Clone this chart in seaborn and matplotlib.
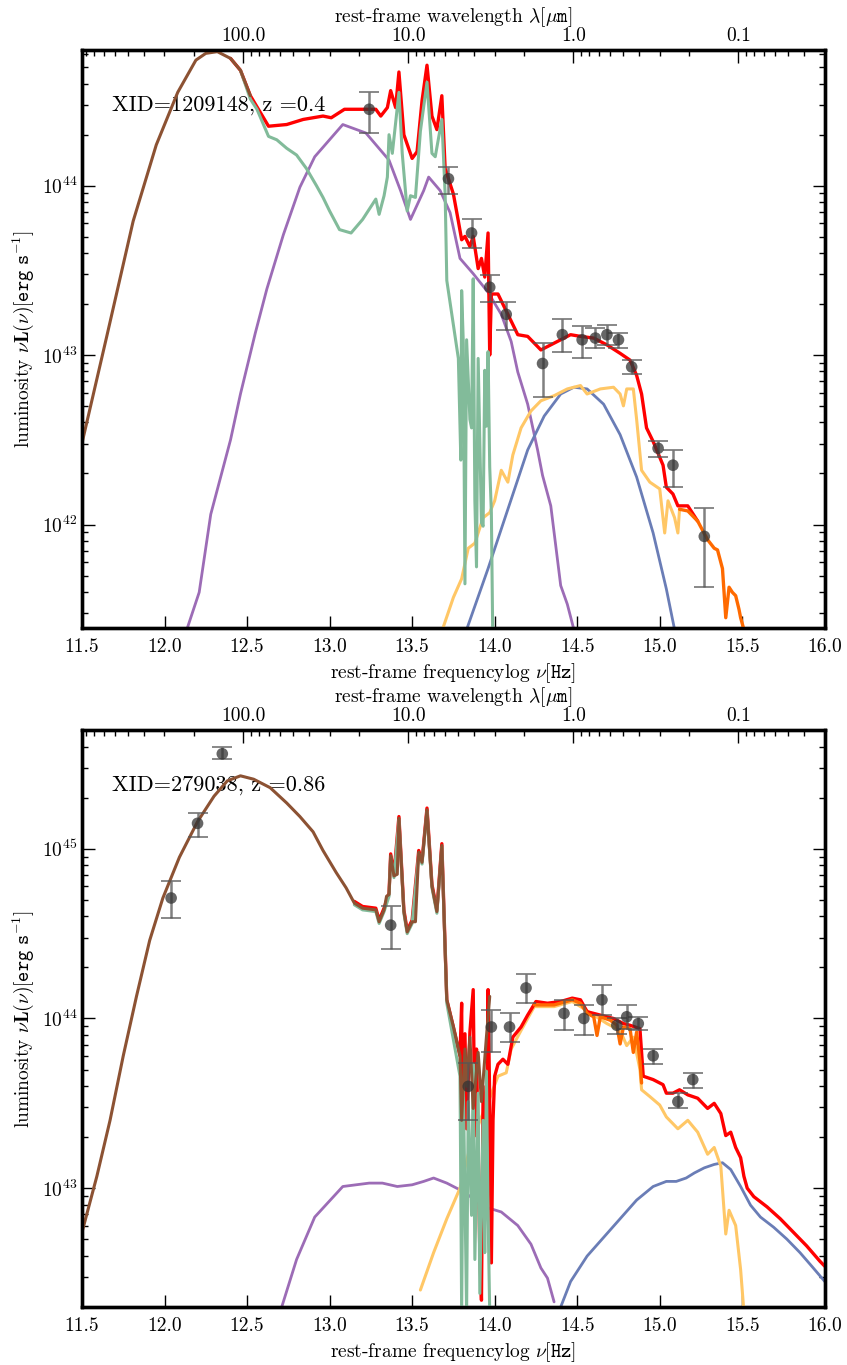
import numpy as np
import matplotlib
matplotlib.use("Agg")
import matplotlib.pyplot as plt
import seaborn as sns

C_UM = 2.998e14  # speed of light in micron/s

# ---------------- top panel: XID=1209148, z=0.4 ----------------
top_label = "XID=1209148, z =0.4"
top_ylim = (41.39, 44.80)

top_cold_x = [11.50, 11.65, 11.81, 11.95, 12.08, 12.19, 12.25, 12.32, 12.40, 12.46, 12.52]
top_cold_y = [42.48, 43.11, 43.79, 44.24, 44.55, 44.74, 44.78, 44.79, 44.75, 44.68, 44.53]

top_sb_x = [12.46, 12.52, 12.56, 12.63, 12.68, 12.74, 12.80, 12.86, 12.92, 12.96, 13.00, 13.06,
            13.13, 13.20, 13.28, 13.30, 13.33, 13.35, 13.36, 13.38, 13.42, 13.44, 13.47, 13.49,
            13.52, 13.55, 13.59, 13.62, 13.64, 13.68, 13.70, 13.71, 13.78, 13.795, 13.80, 13.81,
            13.82, 13.83, 13.85, 13.86, 13.87, 13.88, 13.89, 13.90, 13.92, 13.93, 13.94, 13.95,
            13.96, 13.97, 13.98, 13.99]
top_sb_y = [44.68, 44.51, 44.45, 44.29, 44.27, 44.22, 44.18, 44.10, 44.00, 43.93, 43.85, 43.74,
            43.72, 43.80, 43.92, 43.83, 43.94, 44.05, 44.30, 44.19, 44.55, 44.19, 43.85, 43.94,
            43.93, 44.32, 44.61, 44.19, 44.17, 44.39, 43.95, 43.44, 42.98, 42.38, 43.38, 43.07,
            41.65, 43.09, 42.62, 42.57, 43.45, 42.14, 41.75, 42.98, 42.01, 41.99, 42.91, 42.58,
            43.02, 42.34, 42.07, 41.20]

top_agn_x = [12.135, 12.21, 12.28, 12.40, 12.46, 12.55, 12.62, 12.72, 12.82, 12.91, 13.08, 13.22,
             13.36, 13.43, 13.49, 13.57, 13.60, 13.67, 13.73, 13.79, 13.87, 13.96, 14.04, 14.10,
             14.14, 14.20, 14.26, 14.29, 14.34, 14.40, 14.44, 14.48]
top_agn_y = [41.38, 41.60, 42.06, 42.50, 42.77, 43.13, 43.39, 43.71, 43.99, 44.17, 44.36, 44.31,
             44.15, 43.97, 43.80, 43.97, 44.05, 43.97, 43.84, 43.57, 43.48, 43.37, 43.24, 43.08,
             42.90, 42.71, 42.44, 42.29, 42.11, 41.64, 41.53, 41.38]

top_bbb_x = [13.83, 13.96, 14.08, 14.20, 14.30, 14.40, 14.48, 14.56, 14.66, 14.76, 14.86, 14.96,
             15.04, 15.09]
top_bbb_y = [41.38, 41.74, 42.09, 42.44, 42.64, 42.77, 42.81, 42.80, 42.71, 42.53, 42.28, 41.95,
             41.62, 41.38]

top_gal_x = [13.68, 13.75, 13.80, 13.84, 13.88, 13.93, 13.97, 14.00, 14.04, 14.08, 14.11, 14.16,
             14.22, 14.28, 14.36, 14.44, 14.52, 14.56, 14.64, 14.72, 14.76, 14.78, 14.80, 14.84,
             14.86, 14.89, 14.94, 15.00, 15.03, 15.05, 15.09, 15.11, 15.12]
top_gal_y = [41.37, 41.57, 41.68, 41.86, 41.89, 42.04, 42.07, 42.14, 42.32, 42.25, 42.41, 42.57,
             42.67, 42.73, 42.76, 42.80, 42.82, 42.77, 42.80, 42.81, 42.77, 42.70, 42.80, 42.80,
             42.62, 42.32, 42.25, 42.21, 41.95, 42.14, 42.04, 41.95, 42.09]

top_tot_x = [12.40, 12.46, 12.52, 12.63, 12.74, 12.84, 12.96, 13.01, 13.09, 13.28, 13.31, 13.35,
             13.37, 13.40, 13.42, 13.45, 13.50, 13.53, 13.56, 13.59, 13.62, 13.65, 13.68, 13.70,
             13.72, 13.75, 13.78, 13.80, 13.82, 13.85, 13.87, 13.90, 13.92, 13.94, 13.96, 13.97,
             13.98, 14.02, 14.08, 14.14, 14.20, 14.28, 14.36, 14.46, 14.52, 14.60, 14.68, 14.76,
             14.82, 14.86, 14.89, 14.92, 14.96, 15.02, 15.04, 15.08, 15.11, 15.17, 15.23]
top_tot_y = [44.75, 44.68, 44.53, 44.35, 44.36, 44.39, 44.41, 44.40, 44.45, 44.45, 44.41, 44.46,
             44.56, 44.46, 44.67, 44.30, 44.16, 44.20, 44.50, 44.71, 44.41, 44.33, 44.53, 44.10,
             44.04, 43.95, 43.79, 43.68, 43.70, 43.64, 43.70, 43.51, 43.57, 43.46, 43.72, 43.00,
             43.36, 43.36, 43.24, 43.12, 43.11, 43.03, 43.07, 43.12, 43.11, 43.10, 43.06, 43.01,
             42.97, 42.88, 42.77, 42.57, 42.49, 42.35, 42.22, 42.18, 42.11, 42.11, 42.02]

top_uv_x = [15.12, 15.17, 15.23, 15.29, 15.33, 15.35, 15.38, 15.40, 15.42, 15.44, 15.46, 15.48,
            15.49, 15.51, 15.53]
top_uv_y = [42.09, 42.08, 42.02, 41.91, 41.86, 41.85, 41.74, 41.45, 41.63, 41.60, 41.58, 41.50,
            41.45, 41.38, 41.30]

top_obs_x = [13.24, 13.72, 13.86, 13.97, 14.07, 14.29, 14.41, 14.53, 14.61, 14.68, 14.75, 14.83,
             14.99, 15.08, 15.27]
top_obs_y = [44.45, 44.04, 43.72, 43.40, 43.24, 42.95, 43.12, 43.09, 43.10, 43.12, 43.09, 42.93,
             42.45, 42.35, 41.93]
top_obs_lo = [44.31, 43.95, 43.63, 43.31, 43.15, 42.75, 43.02, 42.98, 43.04, 43.06, 43.04, 42.89,
              42.40, 42.22, 41.63]
top_obs_hi = [44.55, 44.11, 43.80, 43.47, 43.31, 43.07, 43.21, 43.17, 43.16, 43.18, 43.13, 42.97,
              42.49, 42.44, 42.10]

# ---------------- bottom panel: XID=279038, z=0.86 ----------------
bot_label = "XID=279038, z =0.86"
bot_ylim = (42.30, 45.70)

bot_cold_x = [11.50, 11.59, 11.67, 11.75, 11.83, 11.91, 11.99, 12.09, 12.20, 12.30, 12.38, 12.46,
              12.54, 12.64, 12.74, 12.82, 12.90, 12.96, 13.04, 13.10, 13.15, 13.20, 13.28, 13.30,
              13.33, 13.345, 13.36, 13.37, 13.39, 13.41, 13.42, 13.45, 13.47, 13.50, 13.52, 13.54,
              13.56, 13.59, 13.62, 13.65, 13.68, 13.70, 13.71, 13.75, 13.79, 13.80, 13.82, 13.83,
              13.85, 13.87, 13.90, 13.92, 13.95, 13.97]
bot_cold_y = [42.74, 43.07, 43.40, 43.78, 44.13, 44.46, 44.71, 44.95, 45.16, 45.31, 45.40, 45.43,
              45.41, 45.36, 45.27, 45.19, 45.10, 44.99, 44.86, 44.77, 44.68, 44.65, 44.64, 44.57,
              44.64, 44.72, 44.73, 44.96, 44.84, 44.85, 45.18, 44.63, 44.51, 44.57, 44.57, 44.98,
              44.92, 45.23, 44.78, 44.63, 45.02, 44.40, 44.11, 43.95, 43.78, 43.40, 43.82, 43.60,
              43.89, 43.47, 43.80, 43.51, 43.89, 44.13]

bot_sb_x = [13.15, 13.20, 13.28, 13.30, 13.33, 13.36, 13.37, 13.39, 13.42, 13.45, 13.47, 13.50,
            13.54, 13.56, 13.59, 13.62, 13.65, 13.68, 13.71, 13.79, 13.80, 13.81, 13.83, 13.84,
            13.86, 13.87, 13.88, 13.90, 13.91, 13.93, 13.94, 13.95, 13.96, 13.97]
bot_sb_y = [44.67, 44.64, 44.63, 44.56, 44.63, 44.72, 44.95, 44.83, 45.17, 44.62, 44.50, 44.56,
            44.97, 44.91, 45.22, 44.77, 44.62, 45.01, 44.09, 43.66, 42.27, 43.62, 42.27, 43.51,
            42.84, 43.73, 42.58, 43.56, 42.38, 43.40, 42.62, 43.69, 42.84, 42.27]

bot_agn_x = [12.71, 12.80, 12.91, 13.08, 13.24, 13.32, 13.41, 13.50, 13.57, 13.63, 13.71, 13.81,
             13.94, 14.04, 14.14, 14.22, 14.28, 14.32, 14.36]
bot_agn_y = [42.30, 42.58, 42.83, 43.01, 43.03, 43.03, 43.01, 43.02, 43.04, 43.06, 43.03, 42.98,
             42.89, 42.86, 42.78, 42.67, 42.53, 42.47, 42.33]

bot_bbb_x = [14.40, 14.46, 14.56, 14.66, 14.76, 14.86, 14.96, 15.04, 15.10, 15.16, 15.21, 15.27,
             15.33, 15.38, 15.43, 15.49, 15.55, 15.61, 15.69, 15.77, 15.85, 15.93, 16.00]
bot_bbb_y = [42.30, 42.45, 42.60, 42.71, 42.82, 42.93, 43.01, 43.04, 43.04, 43.06, 43.09, 43.12,
             43.14, 43.15, 43.11, 43.01, 42.90, 42.83, 42.77, 42.70, 42.62, 42.53, 42.45]

bot_gal_x = [13.55, 13.63, 13.71, 13.79, 13.85, 13.92, 13.97, 14.02, 14.07, 14.10, 14.16, 14.24,
             14.36, 14.47, 14.52, 14.60, 14.68, 14.76, 14.80, 14.84, 14.88, 14.89, 14.94, 15.00,
             15.04, 15.11, 15.17, 15.23, 15.29, 15.33, 15.37, 15.40, 15.42, 15.46, 15.49, 15.51]
bot_gal_y = [42.40, 42.62, 42.82, 43.00, 43.24, 43.42, 43.53, 43.66, 43.68, 43.82, 43.93, 44.07,
             44.07, 44.10, 44.07, 44.02, 43.97, 43.93, 43.84, 43.89, 43.70, 43.58, 43.54, 43.49,
             43.42, 43.35, 43.40, 43.33, 43.20, 43.24, 43.13, 42.73, 42.87, 42.78, 42.52, 42.27]

bot_tot_x = [13.15, 13.20, 13.28, 13.30, 13.33, 13.36, 13.37, 13.39, 13.42, 13.45, 13.47, 13.50,
             13.54, 13.56, 13.59, 13.62, 13.65, 13.68, 13.71, 13.75, 13.79, 13.80, 13.805, 13.82,
             13.83, 13.85, 13.87, 13.88, 13.89, 13.91, 13.92, 13.93, 13.95, 13.96, 13.97, 13.98,
             13.99, 14.00, 14.02, 14.05, 14.08, 14.11, 14.16, 14.20, 14.25, 14.32, 14.40, 14.47,
             14.52, 14.56, 14.64, 14.72, 14.78, 14.82, 14.88, 14.90, 14.96, 15.02, 15.04, 15.08,
             15.12, 15.17, 15.23, 15.29, 15.33, 15.37, 15.40, 15.43, 15.46, 15.49, 15.51, 15.53,
             15.57, 15.65, 15.73, 15.81, 15.89, 15.97, 16.00]
bot_tot_y = [44.69, 44.66, 44.65, 44.58, 44.65, 44.74, 44.97, 44.85, 45.19, 44.64, 44.52, 44.58,
             44.99, 44.93, 45.24, 44.79, 44.64, 45.03, 44.11, 43.95, 43.78, 44.09, 43.29, 43.91,
             43.35, 43.92, 44.17, 43.31, 43.82, 42.62, 42.34, 43.60, 43.07, 44.17, 43.51, 42.56,
             43.40, 43.66, 43.73, 43.76, 43.73, 43.89, 43.95, 44.02, 44.10, 44.09, 44.10, 44.12,
             44.11, 44.04, 44.02, 44.00, 43.97, 43.96, 43.94, 43.66, 43.64, 43.61, 43.56, 43.56,
             43.58, 43.55, 43.53, 43.47, 43.50, 43.44, 43.31, 43.33, 43.24, 43.18, 43.07, 43.00,
             42.95, 42.89, 42.82, 42.74, 42.66, 42.57, 42.54]

bot_uv_x = [14.24, 14.36, 14.47, 14.52, 14.56, 14.60, 14.62, 14.64, 14.70, 14.74, 14.76, 14.78,
            14.82, 14.84, 14.86, 14.88, 14.89]
bot_uv_y = [44.08, 44.08, 44.11, 44.09, 44.03, 44.01, 43.90, 44.01, 43.99, 43.96, 43.85, 43.95,
            43.94, 43.80, 43.92, 43.75, 43.62]

bot_obs_x = [12.04, 12.20, 12.35, 13.37, 13.84, 13.98, 14.09, 14.19, 14.42, 14.54, 14.65, 14.74,
             14.80, 14.87, 14.96, 15.11, 15.20]
bot_obs_y = [44.71, 45.15, 45.56, 44.55, 43.60, 43.95, 43.95, 44.18, 44.03, 44.00, 44.11, 43.96,
             44.01, 43.97, 43.78, 43.51, 43.64]
bot_obs_lo = [44.59, 45.07, 45.53, 44.41, 43.40, 43.80, 43.86, 44.09, 43.93, 43.90, 44.02, 43.91,
              43.94, 43.93, 43.73, 43.47, 43.59]
bot_obs_hi = [44.81, 45.21, 45.60, 44.66, 43.74, 44.05, 44.03, 44.26, 44.11, 44.08, 44.20, 44.00,
              44.08, 44.01, 43.82, 43.56, 43.68]

wl_major = [100.0, 10.0, 1.0, 0.1]
wl_labels = ["100.0", "10.0", "1.0", "0.1"]

COL = {
    "agn": "#9c6cb6", "bbb": "#6a7db6", "gal": "#ffc766", "tot": "#ff0000",
    "uv": "#ff6a00", "sb": "#82bb9a", "cold": "#8c5233",
}

sns.set_style("ticks")
plt.rcParams["font.family"] = ["cmr10", "DejaVu Serif"]
plt.rcParams["mathtext.fontset"] = "cm"
plt.rcParams["axes.formatter.use_mathtext"] = True
plt.rcParams["axes.linewidth"] = 2.4
plt.rcParams["axes.edgecolor"] = "black"
for key in ("text.color", "axes.labelcolor", "xtick.color", "ytick.color"):
    plt.rcParams[key] = "black"


def curve(ax, x, y, color, lw, z):
    sns.lineplot(x=x, y=10 ** np.asarray(y), ax=ax, color=color, lw=lw,
                 sort=False, estimator=None, zorder=z)


def draw_panel(ax, cold, sb, agn, bbb, gal, tot, uv, obs, label, ylim):
    ax.set_yscale("log")
    curve(ax, *agn, COL["agn"], 2.0, 2)
    curve(ax, *bbb, COL["bbb"], 2.0, 2)
    curve(ax, *gal, COL["gal"], 2.2, 3)
    curve(ax, *tot, COL["tot"], 2.4, 4)
    curve(ax, *uv, COL["uv"], 2.4, 5)
    curve(ax, *sb, COL["sb"], 2.2, 5)
    curve(ax, *cold, COL["cold"], 2.2, 6)

    ox, oy, olo, ohi = (np.asarray(a) for a in obs)
    yv = 10 ** oy
    ax.errorbar(ox, yv, yerr=[yv - 10 ** olo, 10 ** ohi - yv], fmt="none",
                ecolor="#555555", alpha=0.75, elinewidth=1.8, capsize=7,
                capthick=1.3, zorder=7)
    sns.scatterplot(x=ox, y=yv, ax=ax, color="#333333", alpha=0.75, s=70,
                    edgecolor="none", zorder=8)

    ax.set_xlim(11.5, 16.0)
    ax.set_ylim(10 ** ylim[0], 10 ** ylim[1])
    ax.set_xticks(np.arange(11.5, 16.01, 0.5))
    ax.set_xticklabels([f"{v:.1f}" for v in np.arange(11.5, 16.01, 0.5)])
    ax.tick_params(axis="both", which="both", direction="in", labelsize=14,
                   right=True, top=False, width=1.0)
    ax.tick_params(which="major", length=9)
    ax.tick_params(which="minor", length=4.5)
    ax.tick_params(axis="x", pad=7)
    ax.set_xlabel(r"rest-frame frequencylog $\nu[\mathtt{Hz}]$", fontsize=14)
    ax.set_ylabel(r"luminosity $\nu\mathbf{L}(\nu)[\mathtt{erg\ s}^{-1}]$", fontsize=14)
    ax.text(0.04, 0.905, label, transform=ax.transAxes, fontsize=16,
            va="center", ha="left")

    top = ax.twiny()
    top.set_xlim(11.5, 16.0)
    top.set_xticks([np.log10(C_UM / w) for w in wl_major])
    top.set_xticklabels(wl_labels)
    minor = [np.log10(C_UM / (k * 10.0 ** e)) for e in range(-2, 3) for k in range(2, 10)]
    minor = [m for m in minor if 11.5 < m < 16.0]
    top.set_xticks(minor, minor=True)
    top.tick_params(axis="x", which="both", direction="in", labelsize=14, width=1.0)
    top.tick_params(which="major", length=9)
    top.tick_params(which="minor", length=4.5)
    top.set_xlabel(r"rest-frame wavelength $\lambda[\mu\mathtt{m}]$", fontsize=14)
    for s in top.spines.values():
        s.set_linewidth(2.4)


fig = plt.figure(figsize=(8.47, 13.65), dpi=100)
ax1 = fig.add_axes([0.0968, 0.540, 0.877, 0.4234])
ax2 = fig.add_axes([0.0968, 0.0425, 0.877, 0.4227])

draw_panel(ax1, (top_cold_x, top_cold_y), (top_sb_x, top_sb_y), (top_agn_x, top_agn_y),
           (top_bbb_x, top_bbb_y), (top_gal_x, top_gal_y), (top_tot_x, top_tot_y),
           (top_uv_x, top_uv_y), (top_obs_x, top_obs_y, top_obs_lo, top_obs_hi),
           top_label, top_ylim)
draw_panel(ax2, (bot_cold_x, bot_cold_y), (bot_sb_x, bot_sb_y), (bot_agn_x, bot_agn_y),
           (bot_bbb_x, bot_bbb_y), (bot_gal_x, bot_gal_y), (bot_tot_x, bot_tot_y),
           (bot_uv_x, bot_uv_y), (bot_obs_x, bot_obs_y, bot_obs_lo, bot_obs_hi),
           bot_label, bot_ylim)

fig.savefig("out.png", dpi=100)
